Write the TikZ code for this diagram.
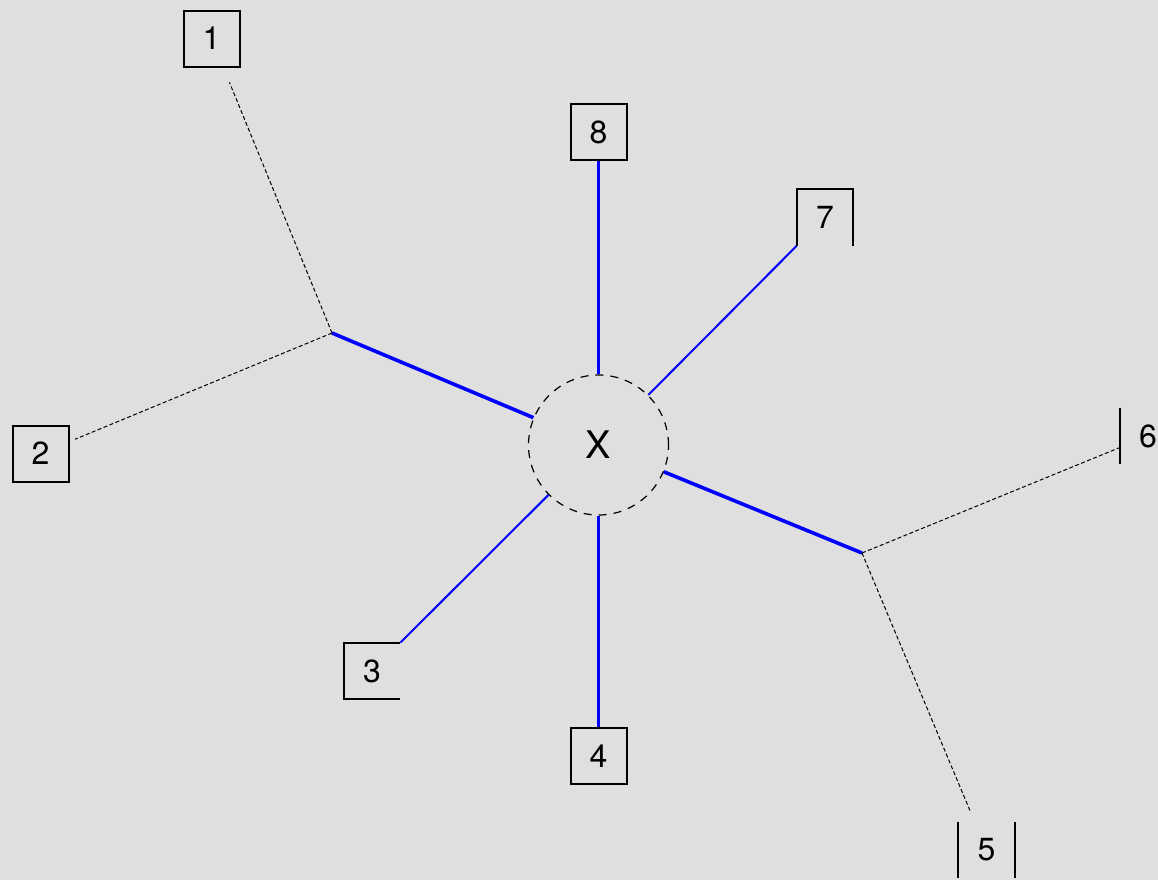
\documentclass[tikz,border=0pt]{standalone}
\usepackage{fontspec}
\setsansfont{TeX Gyre Heros}
\usetikzlibrary{positioning,calc}
\definecolor{bgGrey}{RGB}{223,223,223}
\definecolor{linkBlue}{RGB}{0,0,255}
\tikzset{starpanel/.style={
  x=0.5pt, y=-0.5pt,
  font=\sffamily\fontsize{16}{18}\selectfont,
  leaf/.style={draw=black, line width=1pt, minimum size=28pt, inner sep=0pt},
  openleaf/.style={draw=none, minimum size=28pt, inner sep=0pt},
  hub/.style={circle, draw=black, line width=0.6pt, dash pattern=on 4pt off 3.5pt, minimum size=70pt, inner sep=0pt, font=\sffamily\fontsize{19}{21}\selectfont},
  edge/.style={line width=1pt},
  strong/.style={draw=linkBlue, line width=1.8pt},
  weak/.style={draw=linkBlue, line width=1pt},
  faint/.style={draw=black, line width=0.5pt, dash pattern=on 2pt off 1.2pt},
}}
\begin{document}
\begin{tikzpicture}[starpanel]
\fill[bgGrey] (0,0) rectangle (1158,880);
\useasboundingbox (0,0) rectangle (1158,880);

% leaves
\node[leaf] (n1) at (211.5,38.5) {1};
\node[leaf] (n2) at (40.5,453.5) {2};
\node[openleaf] (n3) at (372,671) {3};
\node[leaf] (n4) at (598.5,756) {4};
\node[openleaf] (n5) at (986.5,850) {5};
\node[openleaf] (n6) at (1148,436) {6};
\node[openleaf] (n7) at (825,217.5) {7};
\node[leaf] (n8) at (598.5,132) {8};

% partial frames
\draw[edge] (n3.north east) -| (n3.south west) -- (n3.south east);
\draw[edge] (n5.north west) -- (n5.south west);
\draw[edge] (n5.north east) -- (n5.south east);
\draw[edge] (n6.north west) -- (n6.south west);
\draw[edge] (n7.south west) |- (n7.north east) -- (n7.south east);

% centre and branch points
\node[hub] (X) at (598.5,445) {X};
\coordinate (jl) at (332,333);
\coordinate (jr) at (862,553);

% links
\draw[strong] (n8) -- (X);
\draw[strong] (n4) -- (X);
\draw[weak] (n7.south west) -- (X);
\draw[weak] (n3.north east) -- (X);
\draw[strong] (jl) -- (X);
\draw[strong] (jr) -- (X);
\draw[faint, shorten >=8pt] (jl) -- (n1);
\draw[faint, shorten >=3pt] (jl) -- (n2);
\draw[faint] (jr) -- (n6);
\draw[faint, shorten >=5pt] (jr) -- (n5);
\end{tikzpicture}
\end{document}
